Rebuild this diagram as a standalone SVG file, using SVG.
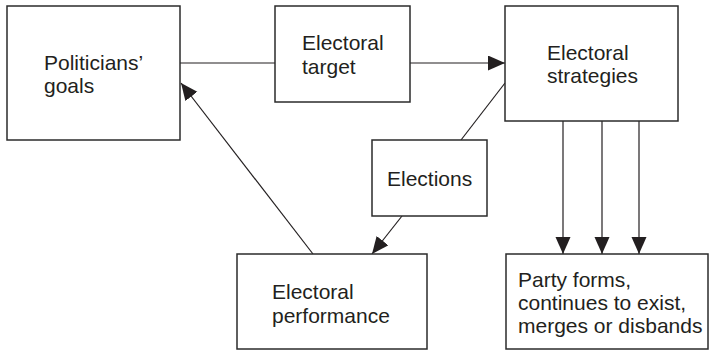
<svg xmlns="http://www.w3.org/2000/svg" width="709" height="351" viewBox="0 0 709 351">
  <style>
    .box { fill: #ffffff; stroke: #2b2b2b; stroke-width: 1.5; }
    .label { font-family: "Liberation Sans", Arial, sans-serif; font-size: 21px; fill: #231f20; }
    .link { fill: none; stroke: #231f20; stroke-width: 1.2; }
  </style>
  <defs>
    <marker id="arrow" markerUnits="userSpaceOnUse" markerWidth="18" markerHeight="16" refX="17" refY="7.5" orient="auto">
      <path d="M0,0 L17,7.5 L0,15 Z" fill="#231f20"/>
    </marker>
  </defs>

  <rect width="709" height="351" fill="#ffffff"/>

  <g id="connectors">
    <!-- goals to target -->
    <line class="link" x1="180" y1="63" x2="275" y2="63"/>
    <!-- target to strategies -->
    <line class="link" x1="410" y1="63" x2="505" y2="63" marker-end="url(#arrow)"/>
    <!-- strategies through elections to performance -->
    <line class="link" x1="505" y1="83" x2="461" y2="140"/>
    <line class="link" x1="402" y1="216" x2="372" y2="254" marker-end="url(#arrow)"/>
    <!-- performance back to goals -->
    <line class="link" x1="313" y1="254" x2="181" y2="83" marker-end="url(#arrow)"/>
    <!-- strategies to party outcomes -->
    <line class="link" x1="563" y1="121" x2="563" y2="254" marker-end="url(#arrow)"/>
    <line class="link" x1="602" y1="121" x2="602" y2="254" marker-end="url(#arrow)"/>
    <line class="link" x1="639" y1="121" x2="639" y2="254" marker-end="url(#arrow)"/>
  </g>

  <g id="politicians-goals">
    <rect class="box" x="7" y="6" width="173" height="134"/>
    <text class="label" x="44" y="70">Politicians’</text>
    <text class="label" x="44" y="93">goals</text>
  </g>

  <g id="electoral-target">
    <rect class="box" x="275" y="6" width="135" height="96"/>
    <text class="label" x="302" y="50">Electoral</text>
    <text class="label" x="302" y="74">target</text>
  </g>

  <g id="electoral-strategies">
    <rect class="box" x="505" y="6" width="173" height="115"/>
    <text class="label" x="547" y="60">Electoral</text>
    <text class="label" x="547" y="83">strategies</text>
  </g>

  <g id="elections">
    <rect class="box" x="372" y="140" width="115" height="76"/>
    <text class="label" x="387" y="186">Elections</text>
  </g>

  <g id="electoral-performance">
    <rect class="box" x="237" y="254" width="190" height="95"/>
    <text class="label" x="272" y="299">Electoral</text>
    <text class="label" x="272" y="323">performance</text>
  </g>

  <g id="party-outcome">
    <rect class="box" x="506" y="254" width="202" height="95"/>
    <text class="label" x="518" y="287">Party forms,</text>
    <text class="label" x="518" y="310">continues to exist,</text>
    <text class="label" x="518" y="333">merges or disbands</text>
  </g>
</svg>
